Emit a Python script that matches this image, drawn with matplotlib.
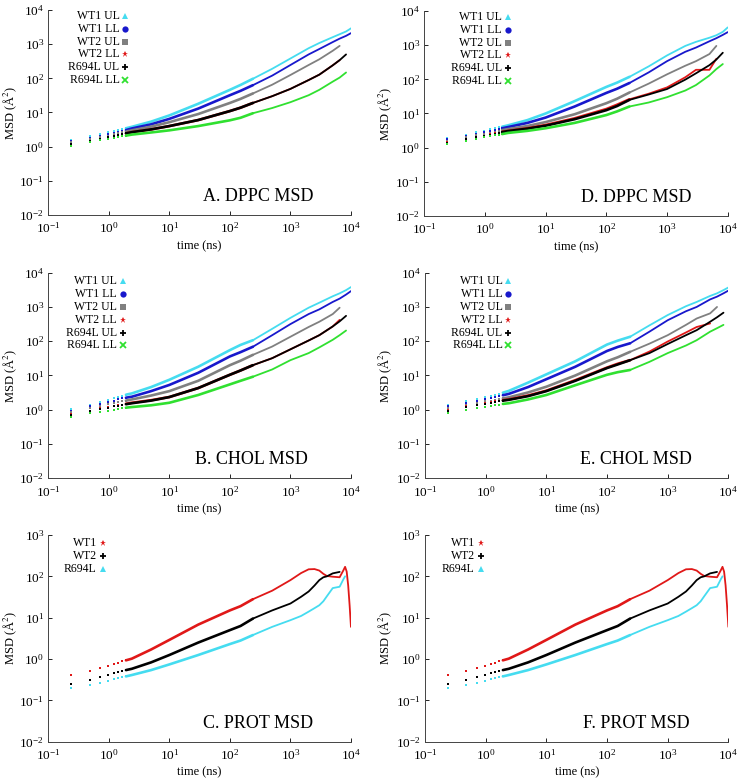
import numpy as np
import matplotlib.pyplot as plt
from matplotlib.ticker import LogLocator, LogFormatterSciNotation, NullLocator

plt.rcParams['font.family'] = ['Liberation Serif', 'DejaVu Serif']
plt.rcParams['mathtext.fontset'] = 'stix'

nan = np.nan

# time points (ns)
t_lip = [0.24, 0.48, 0.72, 0.96, 1.2, 1.44, 1.68, 1.92, 2.4, 5, 10, 30, 100, 150,
         240, 500, 1000, 2000, 3000, 5000, 6500, 8300, 10000]
t_prot = [0.24, 0.48, 0.72, 0.96, 1.2, 1.44, 1.68, 1.92, 2.4, 5, 10, 30, 100, 150,
          240, 500, 1000, 1500, 2000, 2500, 3000, 3500, 4000, 5000, 6500, 7500,
          8000, 8500, 9000, 9500, 10000]

lip_labels = ['WT1 UL', 'WT1 LL', 'WT2 UL', 'WT2 LL', 'R694L UL', 'R694L LL']
lip_colors = ['#45dcf0', '#1818cc', '#808080', '#e01818', '#000000', '#30e030']
lip_markers = ['^', 'o', 's', '*', '+', 'x']

prot_labels = ['WT1', 'WT2', 'R694L']
prot_colors = ['#e01818', '#000000', '#45dcf0']
prot_markers = ['*', '+', '^']

# A. DPPC MSD
a_wt1_ul = [1.6, 2.0, 2.35, 2.6, 2.85, 3.05, 3.25, 3.45, 3.8, 5.4, 8.2, 18, 46, 64, 97, 190, 380, 760, 1080, 1600, 1950, 2350, 2900]
a_wt1_ll = [1.45, 1.8, 2.1, 2.3, 2.5, 2.7, 2.9, 3.05, 3.4, 4.5, 6.5, 13, 32, 43, 63, 120, 245, 500, 720, 1150, 1450, 1750, 2100]
a_wt2_ul = [1.35, 1.65, 1.9, 2.1, 2.3, 2.45, 2.6, 2.75, 3.0, 3.85, 5.2, 9.0, 19, 25, 36, 65, 125, 245, 360, 640, 890, nan, nan]
a_wt2_ll = [1.2, 1.5, 1.7, 1.9, 2.05, 2.2, 2.3, 2.45, 2.65, 3.2, 4.0, 6.0, 11, 13.8, 19, 30, 49, 89, 128, 240, 340, nan, nan]
a_r694l_ul = [1.2, 1.5, 1.7, 1.9, 2.05, 2.2, 2.3, 2.45, 2.65, 3.2, 4.0, 6.0, 11, 13.8, 19, 30, 49, 89, 128, 240, 340, 500, nan]
a_r694l_ll = [1.05, 1.35, 1.55, 1.7, 1.8, 1.9, 2.0, 2.1, 2.25, 2.6, 3.0, 4.0, 5.9, 7.0, 9.5, 13.5, 20, 32, 46, 80, 105, 148, nan]

# B. CHOL MSD
b_wt1_ul = [1.05, 1.4, 1.7, 1.95, 2.15, 2.35, 2.55, 2.75, 3.0, 4.6, 7.5, 18, 55, 78, 107, 230, 480, 950, 1330, 2050, 2500, 3100, 3800]
b_wt1_ll = [0.95, 1.25, 1.5, 1.7, 1.85, 2.0, 2.15, 2.25, 2.4, 3.5, 5.3, 12, 36, 48, 69, 150, 316, 620, 850, 1400, 1750, 2300, 2900]
b_wt2_ul = [0.85, 1.1, 1.3, 1.45, 1.55, 1.65, 1.75, 1.85, 2.0, 2.6, 3.5, 7.0, 20, 27, 40, 70, 135, 260, 370, 620, 950, nan, nan]
b_wt2_ll = [0.75, 0.95, 1.1, 1.2, 1.3, 1.35, 1.42, 1.5, 1.6, 1.9, 2.35, 4.3, 10.5, 14, 20, 32, 58, 105, 150, 270, 420, nan, nan]
b_r694l_ul = [0.72, 0.92, 1.05, 1.15, 1.25, 1.32, 1.4, 1.45, 1.55, 1.85, 2.35, 4.3, 10.5, 14, 20, 32, 58, 105, 150, 270, 380, 550, nan]
b_r694l_ll = [0.63, 0.78, 0.88, 0.95, 1.0, 1.05, 1.1, 1.15, 1.2, 1.35, 1.6, 2.7, 5.5, 7.0, 9.2, 15, 28, 45, 66, 110, 150, 205, nan]

# D. DPPC MSD
d_wt1_ul = [1.9, 2.4, 2.8, 3.1, 3.4, 3.65, 3.9, 4.1, 4.5, 6.4, 10, 23, 60, 80, 118, 240, 500, 950, 1250, 1650, 1950, 2450, 3300]
d_wt1_ll = [1.75, 2.2, 2.55, 2.8, 3.05, 3.3, 3.5, 3.7, 4.0, 5.3, 7.6, 16, 40, 53, 78, 160, 340, 640, 850, 1300, 1600, 2000, 2400]
d_wt2_ul = [1.6, 2.0, 2.3, 2.55, 2.75, 2.95, 3.1, 3.25, 3.5, 4.3, 5.6, 9.5, 20, 27, 41, 75, 140, 250, 340, 550, 950, nan, nan]
d_wt2_ll = [1.45, 1.8, 2.05, 2.25, 2.45, 2.6, 2.75, 2.9, 3.1, 3.7, 4.6, 7.2, 13.5, 18, 26, 38, 58, 115, 190, 190, 400, nan, nan]
d_r694l_ul = [1.4, 1.75, 2.0, 2.2, 2.4, 2.55, 2.7, 2.85, 3.05, 3.6, 4.4, 6.8, 12.5, 16.5, 25, 36, 52, 98, 150, 260, 380, 600, nan]
d_r694l_ll = [1.25, 1.55, 1.8, 2.0, 2.15, 2.3, 2.4, 2.5, 2.7, 3.1, 3.7, 5.3, 9.0, 11.5, 16, 21, 30, 47, 68, 130, 200, 280, nan]

# E. CHOL MSD
e_wt1_ul = [1.38, 1.8, 2.1, 2.35, 2.55, 2.75, 2.95, 3.15, 3.55, 6.2, 10.8, 26, 80, 104, 135, 290, 580, 1050, 1400, 2100, 2500, 3100, 3700]
e_wt1_ll = [1.25, 1.6, 1.85, 2.05, 2.2, 2.35, 2.5, 2.65, 2.9, 4.6, 7.8, 18, 52, 68, 87, 190, 410, 750, 1000, 1660, 2000, 2500, 3000]
e_wt2_ul = [1.1, 1.4, 1.6, 1.75, 1.85, 1.95, 2.05, 2.15, 2.3, 3.2, 4.7, 10, 26, 34, 49, 85, 150, 300, 460, 650, 1000, nan, nan]
e_wt2_ll = [1.0, 1.25, 1.4, 1.55, 1.65, 1.75, 1.82, 1.9, 2.0, 2.6, 3.6, 7.3, 17, 22, 28, 50, 98, 180, 260, 330, nan, nan, nan]
e_r694l_ul = [0.95, 1.2, 1.35, 1.5, 1.6, 1.7, 1.77, 1.85, 1.95, 2.5, 3.5, 7.0, 16.5, 21, 28, 45, 83, 150, 210, 370, 500, 680, nan]
e_r694l_ll = [0.8, 1.0, 1.1, 1.2, 1.3, 1.36, 1.42, 1.48, 1.55, 2.0, 2.7, 5.2, 10.5, 12.5, 14.5, 25, 45, 75, 107, 190, 240, 300, nan]

# C. / F. PROT MSD
c_wt1 = [0.40, 0.52, 0.61, 0.69, 0.76, 0.82, 0.88, 0.93, 1.02, 1.7, 2.9, 6.8, 15, 19, 28,
         45, 81, 120, 148, 150, 138, 115, 102, 98, 95, 140, 170, 130, 60, 20, 6]
c_wt2 = [0.25, 0.31, 0.37, 0.41, 0.45, 0.48, 0.51, 0.54, 0.58, 0.83, 1.25, 2.5, 5.0, 6.3, 9.5,
         15, 22, 32, 43, 60, 81, 95, 100, 118, 128, nan, nan, nan, nan, nan, nan]
c_r694l = [0.195, 0.23, 0.26, 0.30, 0.32, 0.34, 0.36, 0.38, 0.41, 0.54, 0.74, 1.25, 2.3, 2.8, 3.8,
           6.0, 8.7, 11, 14, 17, 20, 25, 33, 52, 56, 85, 100, nan, nan, nan, nan]

f_wt1, f_wt2, f_r694l = c_wt1, c_wt2, c_r694l

n_dots = 8     # first points show as separate dots
i_split = 14   # index of t = 240 ns where sampling changes


def draw_panel(ax, t, series, labels, colors, markers, title, ymin, ymax,
               leg_x, leg_y, title_x, ylab_x):
    t = np.array(t)
    for y, c, m in zip(series, colors, markers):
        y = np.array(y, dtype=float)
        ax.plot(t[:n_dots], y[:n_dots], ls='none', marker='s', ms=1.6, mew=0, color=c)
        ax.plot(t[n_dots - 1:i_split + 1], y[n_dots - 1:i_split + 1], color=c, lw=1.9,
                solid_capstyle='round', solid_joinstyle='round')
        ax.plot(t[i_split:], y[i_split:], color=c, lw=1.3, solid_capstyle='round',
                solid_joinstyle='round')
    ax.set_xscale('log')
    ax.set_yscale('log')
    ax.set_xlim(0.1, 1e4)
    ax.set_ylim(ymin, ymax)
    ax.xaxis.set_major_locator(LogLocator(base=10, numticks=10))
    ax.yaxis.set_major_locator(LogLocator(base=10, numticks=10))
    ax.xaxis.set_major_formatter(LogFormatterSciNotation())
    ax.yaxis.set_major_formatter(LogFormatterSciNotation())
    ax.xaxis.set_minor_locator(NullLocator())
    ax.yaxis.set_minor_locator(NullLocator())
    ax.tick_params(direction='in', length=3, width=0.6, labelsize=9.5, pad=3)
    ax.tick_params(axis='x', pad=4.5)
    for s in ['top', 'right']:
        ax.spines[s].set_visible(False)
    for s in ['left', 'bottom']:
        ax.spines[s].set_linewidth(0.7)
        ax.spines[s].set_color('#444444')
    ax.set_xlabel('time (ns)', fontsize=9, labelpad=3)
    ax.set_ylabel('MSD (Å$^2$)', fontsize=9, va='center')
    ax.yaxis.set_label_coords(ylab_x, 0.5)
    # key: right aligned labels with marker to the right
    for k, (lab, c, m) in enumerate(zip(labels, colors, markers)):
        yy = leg_y - k * 0.063
        ax.text(leg_x, yy, lab, transform=ax.transAxes, ha='right', va='center',
                fontsize=8.5)
        ax.plot([leg_x + 0.02], [yy], transform=ax.transAxes, marker=m, color=c,
                ms=4.5 if m not in ('+', 'x') else 5, mew=1.3 if m in ('+', 'x') else 0,
                ls='none', clip_on=False)
    ax.text(title_x, 0.09, title, transform=ax.transAxes, ha='right', va='center',
            fontsize=13)


fig = plt.figure(figsize=(7.37, 7.8), dpi=100)

ax_a = fig.add_axes([0.0655, 0.7244, 0.4107, 0.2628])
ax_d = fig.add_axes([0.5757, 0.7231, 0.4117, 0.2628])
ax_b = fig.add_axes([0.0655, 0.3868, 0.4107, 0.2636])
ax_e = fig.add_axes([0.5767, 0.3868, 0.4116, 0.2636])
ax_c = fig.add_axes([0.0655, 0.0491, 0.4107, 0.2650])
ax_f = fig.add_axes([0.5767, 0.0491, 0.4116, 0.2650])

draw_panel(ax_a, t_lip, [a_wt1_ul, a_wt1_ll, a_wt2_ul, a_wt2_ll, a_r694l_ul, a_r694l_ll],
           lip_labels, lip_colors, lip_markers, 'A. DPPC MSD', 1e-2, 1e4, 0.235, 0.972, 0.875, -0.125)
draw_panel(ax_d, t_lip, [d_wt1_ul, d_wt1_ll, d_wt2_ul, d_wt2_ll, d_r694l_ul, d_r694l_ll],
           lip_labels, lip_colors, lip_markers, 'D. DPPC MSD', 1e-2, 1e4, 0.255, 0.972, 0.881, -0.13)
draw_panel(ax_b, t_lip, [b_wt1_ul, b_wt1_ll, b_wt2_ul, b_wt2_ll, b_r694l_ul, b_r694l_ll],
           lip_labels, lip_colors, lip_markers, 'B. CHOL MSD', 1e-2, 1e4, 0.226, 0.961, 0.859, -0.125)
draw_panel(ax_e, t_lip, [e_wt1_ul, e_wt1_ll, e_wt2_ul, e_wt2_ll, e_r694l_ul, e_r694l_ll],
           lip_labels, lip_colors, lip_markers, 'E. CHOL MSD', 1e-2, 1e4, 0.255, 0.961, 0.881, -0.13)
draw_panel(ax_c, t_prot, [c_wt1, c_wt2, c_r694l], prot_labels, prot_colors, prot_markers,
           'C. PROT MSD', 1e-2, 1e3, 0.16, 0.96, 0.875, -0.125)
draw_panel(ax_f, t_prot, [f_wt1, f_wt2, f_r694l], prot_labels, prot_colors, prot_markers,
           'F. PROT MSD', 1e-2, 1e3, 0.164, 0.96, 0.873, -0.13)

fig.savefig('out.png', dpi=100)
